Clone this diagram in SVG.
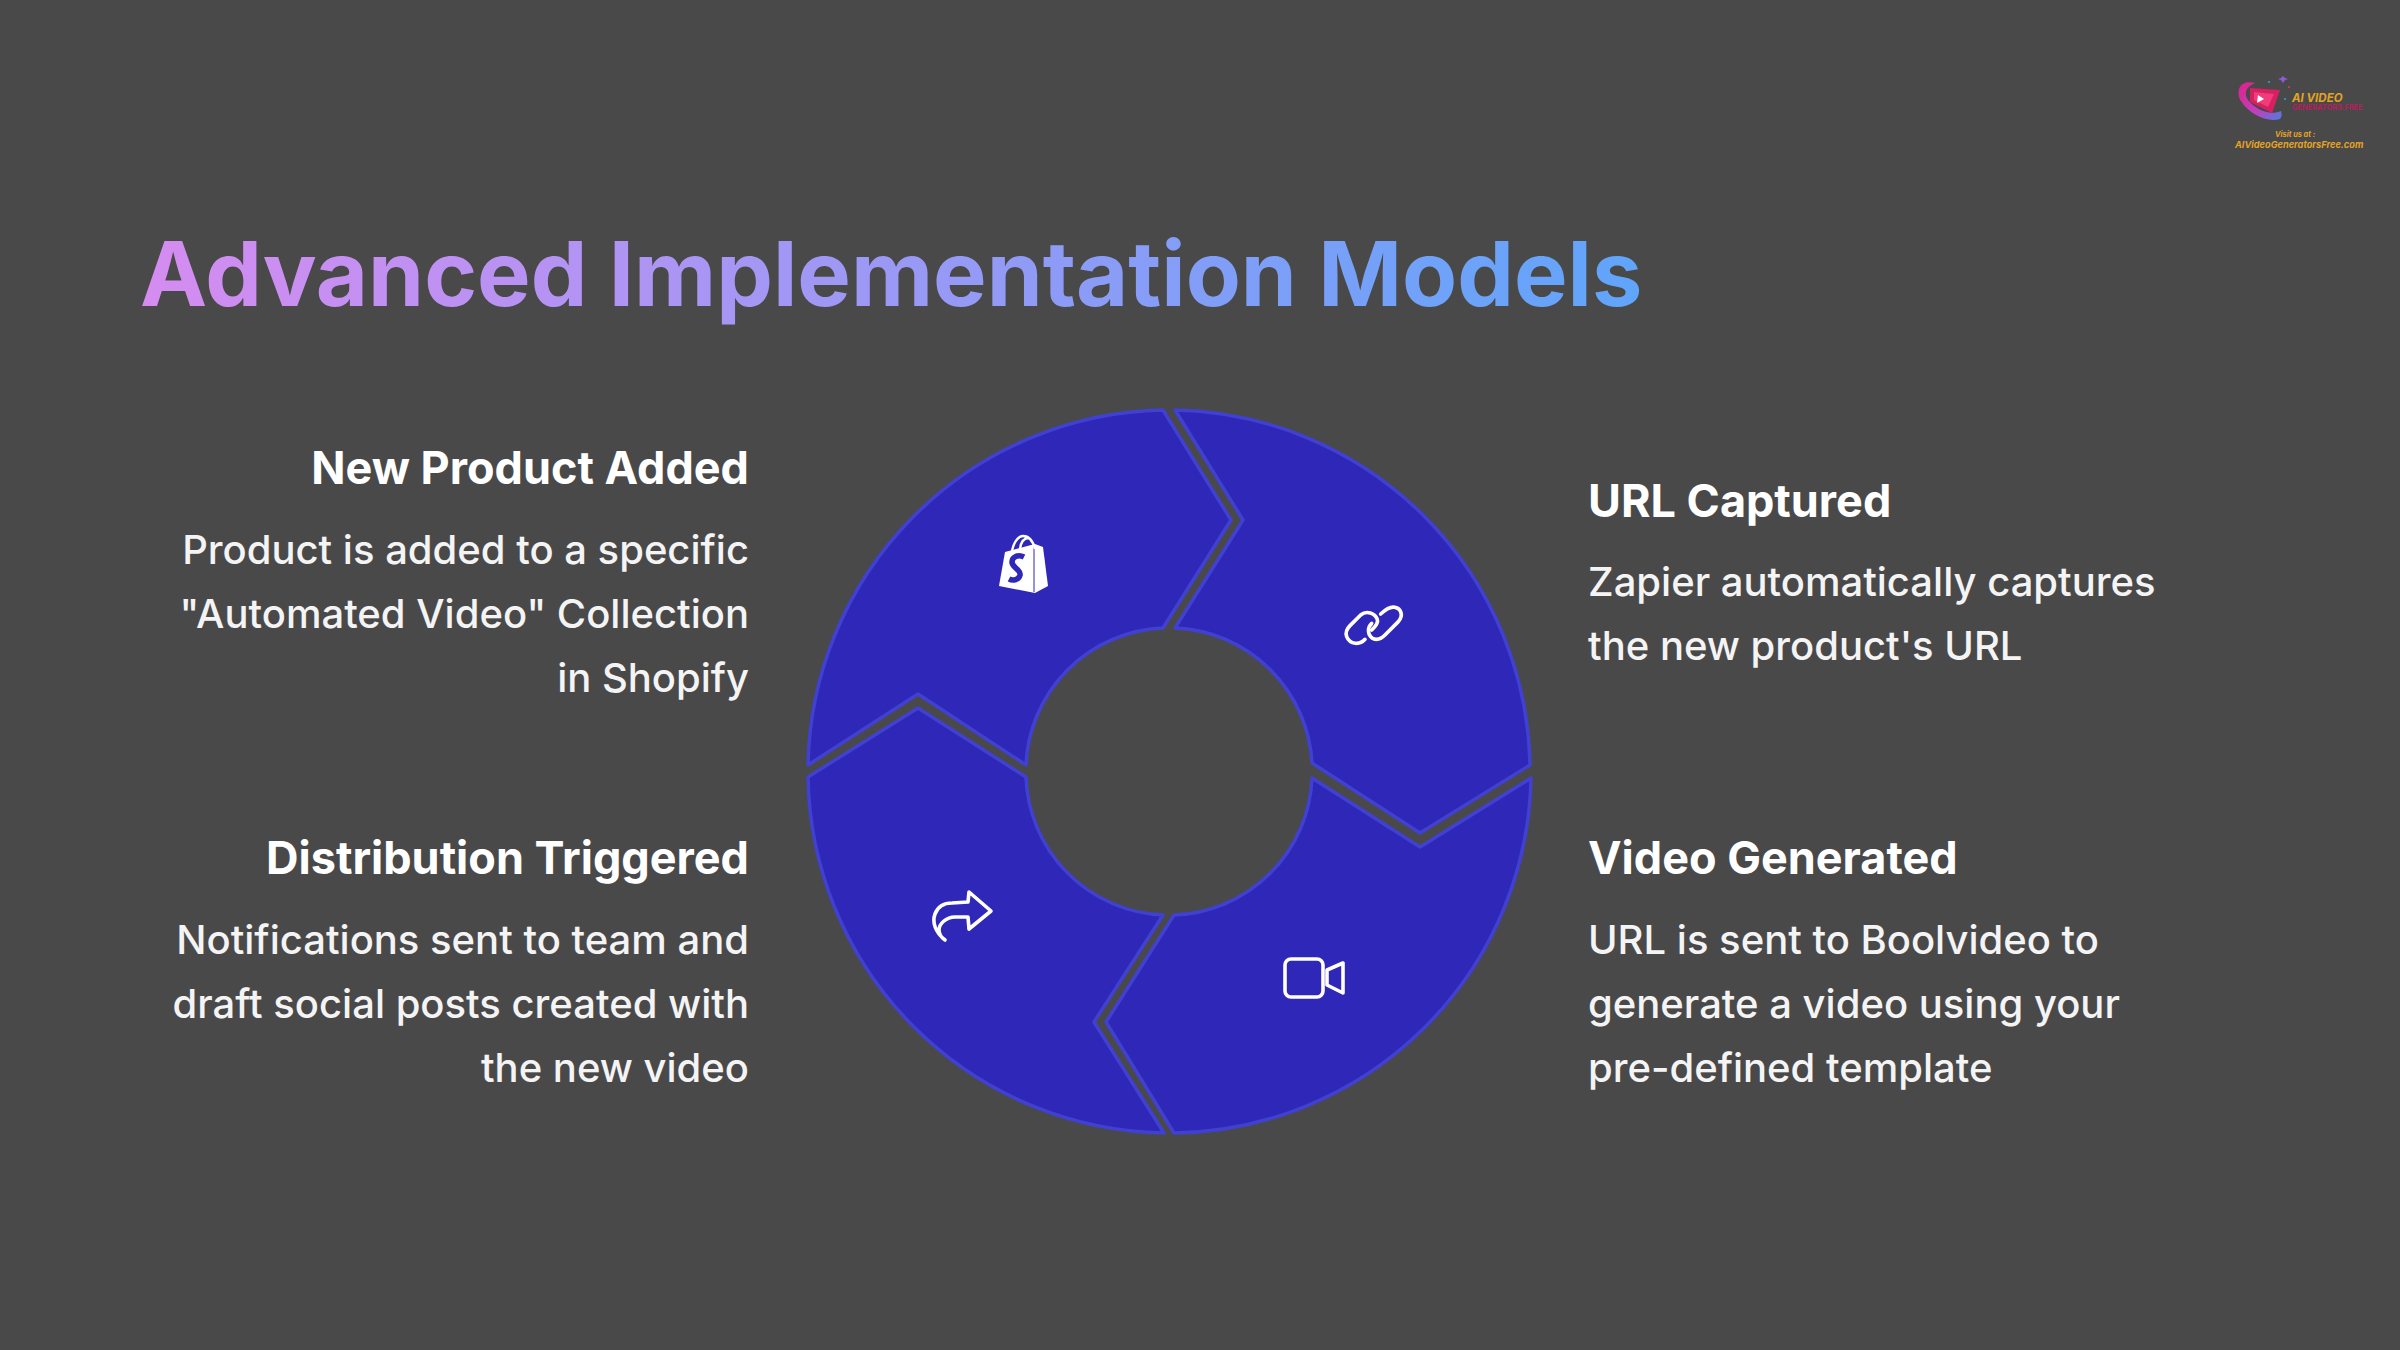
<svg xmlns="http://www.w3.org/2000/svg" width="2400" height="1350" viewBox="0 0 2400 1350">
<defs>
<linearGradient id="titleGrad" gradientUnits="userSpaceOnUse" x1="140" y1="0" x2="1640" y2="0"><stop offset="0" stop-color="#d58cf0"/><stop offset="1" stop-color="#60a5fa"/></linearGradient>
<linearGradient id="swoosh" x1="0" y1="0" x2="1" y2="1"><stop offset="0" stop-color="#e0218a"/><stop offset="0.6" stop-color="#c03fc0"/><stop offset="1" stop-color="#4a7fe0"/></linearGradient>
<style>
text{font-family:Inter,"Noto Sans","Liberation Sans",sans-serif}
.h{font-size:45px;font-weight:700;fill:#fff}
.b{font-size:40px;font-weight:500;fill:#f4f4f4}
.r{text-anchor:end}
.seg{fill:#2e27b7;stroke:#4040d2;stroke-width:3.5;stroke-linejoin:round}
.ico{fill:none;stroke:#fff;stroke-width:3.6;stroke-linejoin:round;stroke-linecap:round}
.lg{font-style:italic;font-weight:700;fill:#e3a325}
</style>
</defs>
<rect width="2400" height="1350" fill="#4a494a"/>
<text x="140" y="306" font-size="90" font-weight="700" fill="url(#titleGrad)">Advanced Implementation Models</text>

<g id="logo">
<path d="M2255 83C2240 79 2235 91 2241 101C2249 114 2267 123 2280 119C2282 117 2282 114 2281 111C2270 116 2256 110 2248 100C2244 94 2245 87 2255 83Z" fill="url(#swoosh)"/>
<polygon points="2250,88 2280,90 2272,113 2250,102" fill="#d81f62"/>
<polygon points="2254,92 2274,94 2268,107 2254,100" fill="#ee3d78"/>
<polygon points="2258,95 2264,99 2257,103" fill="#fff"/>
<polygon points="2283,76 2285,78 2288,79 2285,80 2283,83 2281,80 2278,79 2281,78" fill="#8f5cd6"/>
<circle cx="2269" cy="82" r="1" fill="#2aa6d8"/><circle cx="2289" cy="87" r="1" fill="#e0336b"/><circle cx="2285" cy="99" r="1" fill="#2aa6d8"/>
<text x="2292" y="102" font-size="11.5" class="lg">AI VIDEO</text>
<text x="2292" y="110" font-size="7.4" font-weight="700" fill="#b3205c">GENERATORS.FREE</text>
<text x="2275" y="137" font-size="7.4" class="lg">Visit us at :</text>
<text x="2235" y="148" font-size="9.2" class="lg">AIVideoGeneratorsFree.com</text>
</g>

<g id="node-new-product">
<path class="seg" d="M1163 410A362 362 0 0 0 808 765L918 694L1026 765A143 143 0 0 1 1163 628L1231 520Z"/>
<path d="M1005 552L999 586L1035 593L1048 586L1043 547L1035 544Z" fill="#fff"/>
<path d="M1034 546L1034 592" stroke="#2e27b7" stroke-width="1" fill="none"/>
<path d="M1012 551C1014 541 1019 536 1023 536C1029 536 1033 541 1035 549M1020 549C1021 541 1025 538 1029 538" fill="none" stroke="#fff" stroke-width="2.4"/>
<path d="M1024 557C1018 554 1012 557 1012 562C1012 568 1021 569 1020 575C1019 580 1013 581 1009 579" fill="none" stroke="#2e27b7" stroke-width="5.6"/>
<text class="h r" x="749" y="484">New Product Added</text>
<text class="b r" x="749" y="564">Product is added to a specific</text>
<text class="b r" x="749" y="628">"Automated Video" Collection</text>
<text class="b r" x="749" y="692">in Shopify</text>
</g>

<g id="node-url-captured">
<path class="seg" d="M1175 410A362 362 0 0 1 1530 765L1420 833L1312 763A143 143 0 0 0 1175 628L1243 520Z"/>
<g transform="translate(1330 590) scale(.3333)">
<path class="ico" style="stroke-width:11" d="M105 148C90 165 60 165 50 140C45 125 55 112 60 107L92 75C110 60 135 70 142 88C146 100 135 110 125 120"/>
<path class="ico" style="stroke-width:11" d="M125 100C112 112 112 135 128 145C142 152 155 145 165 135L205 95C222 75 212 55 195 52C180 48 165 60 152 72"/>
</g>
<text class="h" x="1588" y="517">URL Captured</text>
<text class="b" x="1588" y="596">Zapier automatically captures</text>
<text class="b" x="1588" y="660">the new product's URL</text>
</g>

<g id="node-video-generated">
<path class="seg" d="M1312 778L1420 847L1531 778A362 362 0 0 1 1174 1133L1106 1022L1174 915A143 143 0 0 0 1312 778Z"/>
<rect class="ico" x="1285" y="959" width="38" height="38" rx="6"/>
<polygon class="ico" points="1327,970 1343,963 1343,993 1327,985"/>
<text class="h" x="1588" y="874">Video Generated</text>
<text class="b" x="1588" y="954">URL is sent to Boolvideo to</text>
<text class="b" x="1588" y="1018">generate a video using your</text>
<text class="b" x="1588" y="1082">pre-defined template</text>
</g>

<g id="node-distribution">
<path class="seg" d="M808 777L918 708L1026 777A143 143 0 0 0 1163 915L1094 1022L1164 1133A362 362 0 0 1 808 777Z"/>
<path class="ico" d="M945 940C935 932 932 922 935 914C938 906 944 903 952 903L968 902L969 892L991 911L969 929L968 917L955 917C946 917 939 924 939 930C939 934 942 938 945 940Z"/>
<text class="h r" x="749" y="874">Distribution Triggered</text>
<text class="b r" x="749" y="954">Notifications sent to team and</text>
<text class="b r" x="749" y="1018">draft social posts created with</text>
<text class="b r" x="749" y="1082">the new video</text>
</g>
</svg>
